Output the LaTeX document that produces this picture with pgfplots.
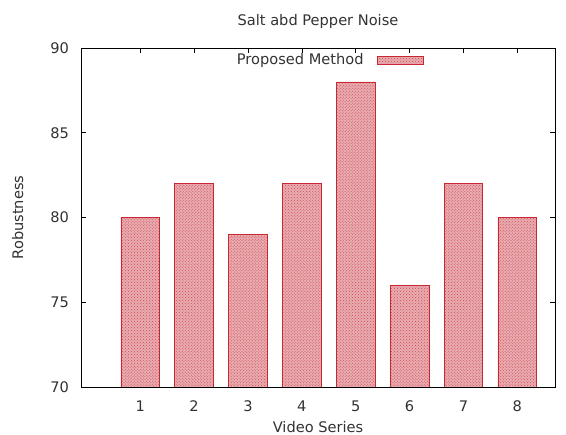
\documentclass[border=0pt]{standalone}
\usepackage{fontspec}
\setmainfont{DejaVu Sans}
\usepackage{pgfplots}
\pgfplotsset{compat=1.18}
\usetikzlibrary{patterns}
\definecolor{barred}{RGB}{200,40,50}
\definecolor{barfill}{RGB}{232,172,177}
\definecolor{txt}{RGB}{50,50,50}
\newcommand{\fs}{\fontsize{14.6bp}{17bp}\selectfont}
\begin{document}
\fs
\begin{tikzpicture}[x=1bp,y=1bp]
\useasboundingbox (-81,-48) rectangle (485,387);
\begin{axis}[
  at={(0,0)}, anchor=south west,
  scale only axis, width=474bp, height=339bp,
  xmin=-0.1, xmax=8.7, ymin=70, ymax=90,
  xtick={1,...,8}, ytick={70,75,...,90},
  tick style={black, line width=0.5pt},
  major tick length=5bp,
  axis line style={black, line width=0.6pt},
  tick label style={font=\fs, text=txt},
  yticklabel style={xshift=-7bp},
  xticklabel style={yshift=-9bp},
  /pgf/number format/assume math mode=true,
  title={Salt abd Pepper Noise},
  title style={font=\fs, text=txt, yshift=8bp},
  xlabel={Video Series}, ylabel={Robustness},
  label style={font=\fs, text=txt},
  xlabel style={yshift=1bp},
  ylabel style={yshift=17bp},
  legend style={at={(0.318,0.995)}, anchor=north west, draw=none, fill=none,
    font=\fs, text=txt, legend cell align=right},
  legend image code/.code={\pgfpathmoveto{\pgfpointorigin}\pgfpathlineto{\pgfpoint{12bp}{0bp}}\pgfusepath{}%
    \draw[#1] (12bp,-4bp) rectangle (58bp,4bp);},
  legend plot pos=right,
]
\addplot[ybar, bar width=0.72, draw=barred, line width=0.7pt,
  fill=barfill, postaction={pattern=crosshatch dots, pattern color=barred!85}]
  coordinates {(1,80) (2,82) (3,79) (4,82) (5,88) (6,76) (7,82) (8,80)};
\addlegendentry{Proposed Method}
\end{axis}
\end{tikzpicture}
\end{document}
